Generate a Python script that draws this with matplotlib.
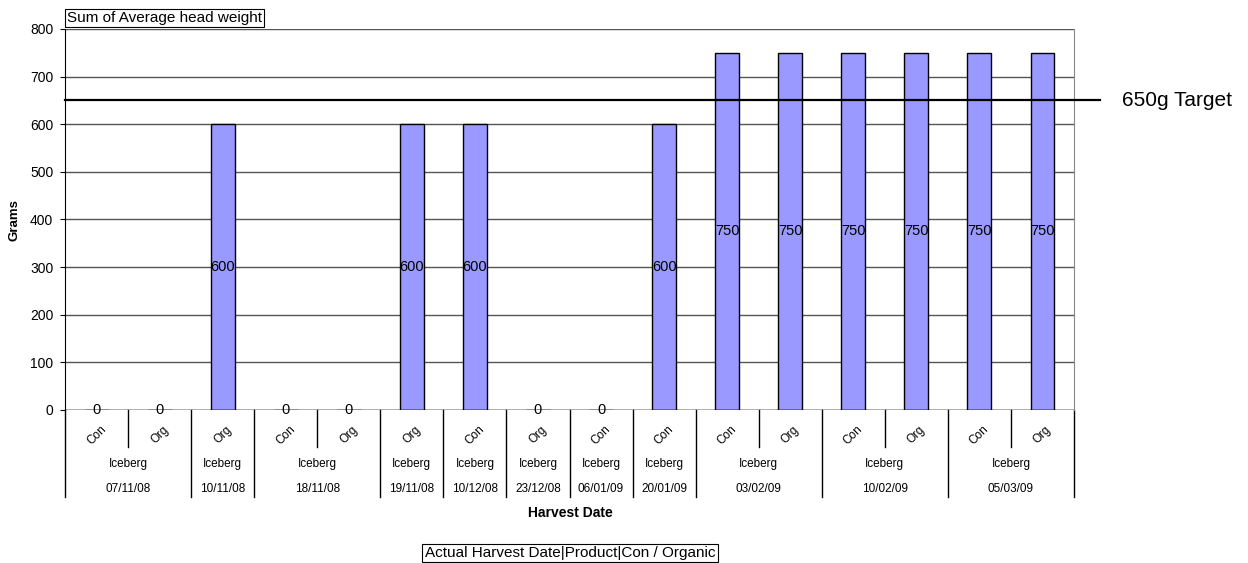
import matplotlib.pyplot as plt
from matplotlib.transforms import blended_transform_factory

plt.rcParams['font.family'] = ['Liberation Sans', 'DejaVu Sans']

# chart data
con_org = ["Con", "Org", "Org", "Con", "Org", "Org", "Con", "Org",
           "Con", "Con", "Con", "Org", "Con", "Org", "Con", "Org"]
products = ["Iceberg"] * 16
dates = ["07/11/08", "07/11/08", "10/11/08", "18/11/08", "18/11/08",
         "19/11/08", "10/12/08", "23/12/08", "06/01/09", "20/01/09",
         "03/02/09", "03/02/09", "10/02/09", "10/02/09", "05/03/09", "05/03/09"]
weights = [0, 0, 600, 0, 0, 600, 600, 0, 0, 600, 750, 750, 750, 750, 750, 750]
target = 650

fig = plt.figure(figsize=(12.48, 5.63), dpi=100)
ax = fig.add_axes([0.0521, 0.2718, 0.8085, 0.6767])

x = list(range(len(weights)))
ax.bar(x, weights, width=0.38, color="#9999FF", edgecolor="black", linewidth=1, zorder=3)
for i, v in enumerate(weights):
    ax.text(i, v / 2, str(v), ha="center", va="center", fontsize=10.5, zorder=4)

ax.set_xlim(-0.5, len(weights) - 0.5)
ax.set_ylim(0, 800)
ax.set_yticks(range(0, 801, 100))
ax.tick_params(axis="y", labelsize=10, length=3.5, direction="out", pad=5)
ax.set_xticks([])
ax.grid(axis="y", color="#555555", linewidth=1, zorder=0)
for s in ["top", "bottom"]:
    ax.spines[s].set_visible(False)
ax.spines["right"].set_color("#888888")
ax.spines["left"].set_color("black")
ax.axhline(0, color="black", linewidth=1, zorder=5)

# target line
ax.axhline(target, xmin=0, xmax=1.026, color="black", linewidth=1.6, clip_on=False, zorder=5)
ax.text(1.0476, target, "650g Target", transform=blended_transform_factory(ax.transAxes, ax.transData),
        ha="left", va="center", fontsize=15)

# multi-level category axis
tr = blended_transform_factory(ax.transData, ax.transAxes)
n = len(weights)
for i in range(n):
    ax.text(i, -0.066, con_org[i], transform=tr, rotation=45, ha="center", va="center", fontsize=8.5)


def groups(keys):
    out = []
    start = 0
    for i in range(1, n + 1):
        if i == n or keys[i] != keys[start]:
            out.append((start, i - 1))
            start = i
    return out


date_groups = groups(dates)
for a, b in date_groups:
    mid = (a + b) / 2
    ax.text(mid, -0.142, products[a], transform=tr, ha="center", va="center", fontsize=8.5)
    ax.text(mid, -0.207, dates[a], transform=tr, ha="center", va="center", fontsize=8.5)
    for k in range(a + 1, b + 1):
        ax.plot([k - 0.5, k - 0.5], [0, -0.097], transform=tr, color="black", lw=1, clip_on=False)
    ax.plot([a - 0.5, a - 0.5], [0, -0.228], transform=tr, color="black", lw=1, clip_on=False)
ax.plot([n - 0.5, n - 0.5], [0, -0.228], transform=tr, color="black", lw=1, clip_on=False)

fig.text(570 / 1248, 1 - 513 / 563, "Harvest Date", ha="center", va="center", fontsize=10, fontweight="bold")
fig.text(14 / 1248, 1 - 220 / 563, "Grams", ha="center", va="center", rotation=90, fontsize=9.5, fontweight="bold")

box = dict(boxstyle="square,pad=0.15", facecolor="white", edgecolor="black", linewidth=0.8)
fig.text(67 / 1248, 1 - 18 / 563, "Sum of Average head weight", ha="left", va="center", fontsize=11, bbox=box)
fig.text(570 / 1248, 1 - 553 / 563, "Actual Harvest Date|Product|Con / Organic", ha="center", va="center",
         fontsize=11, bbox=box)

fig.savefig("out.png", dpi=100)
